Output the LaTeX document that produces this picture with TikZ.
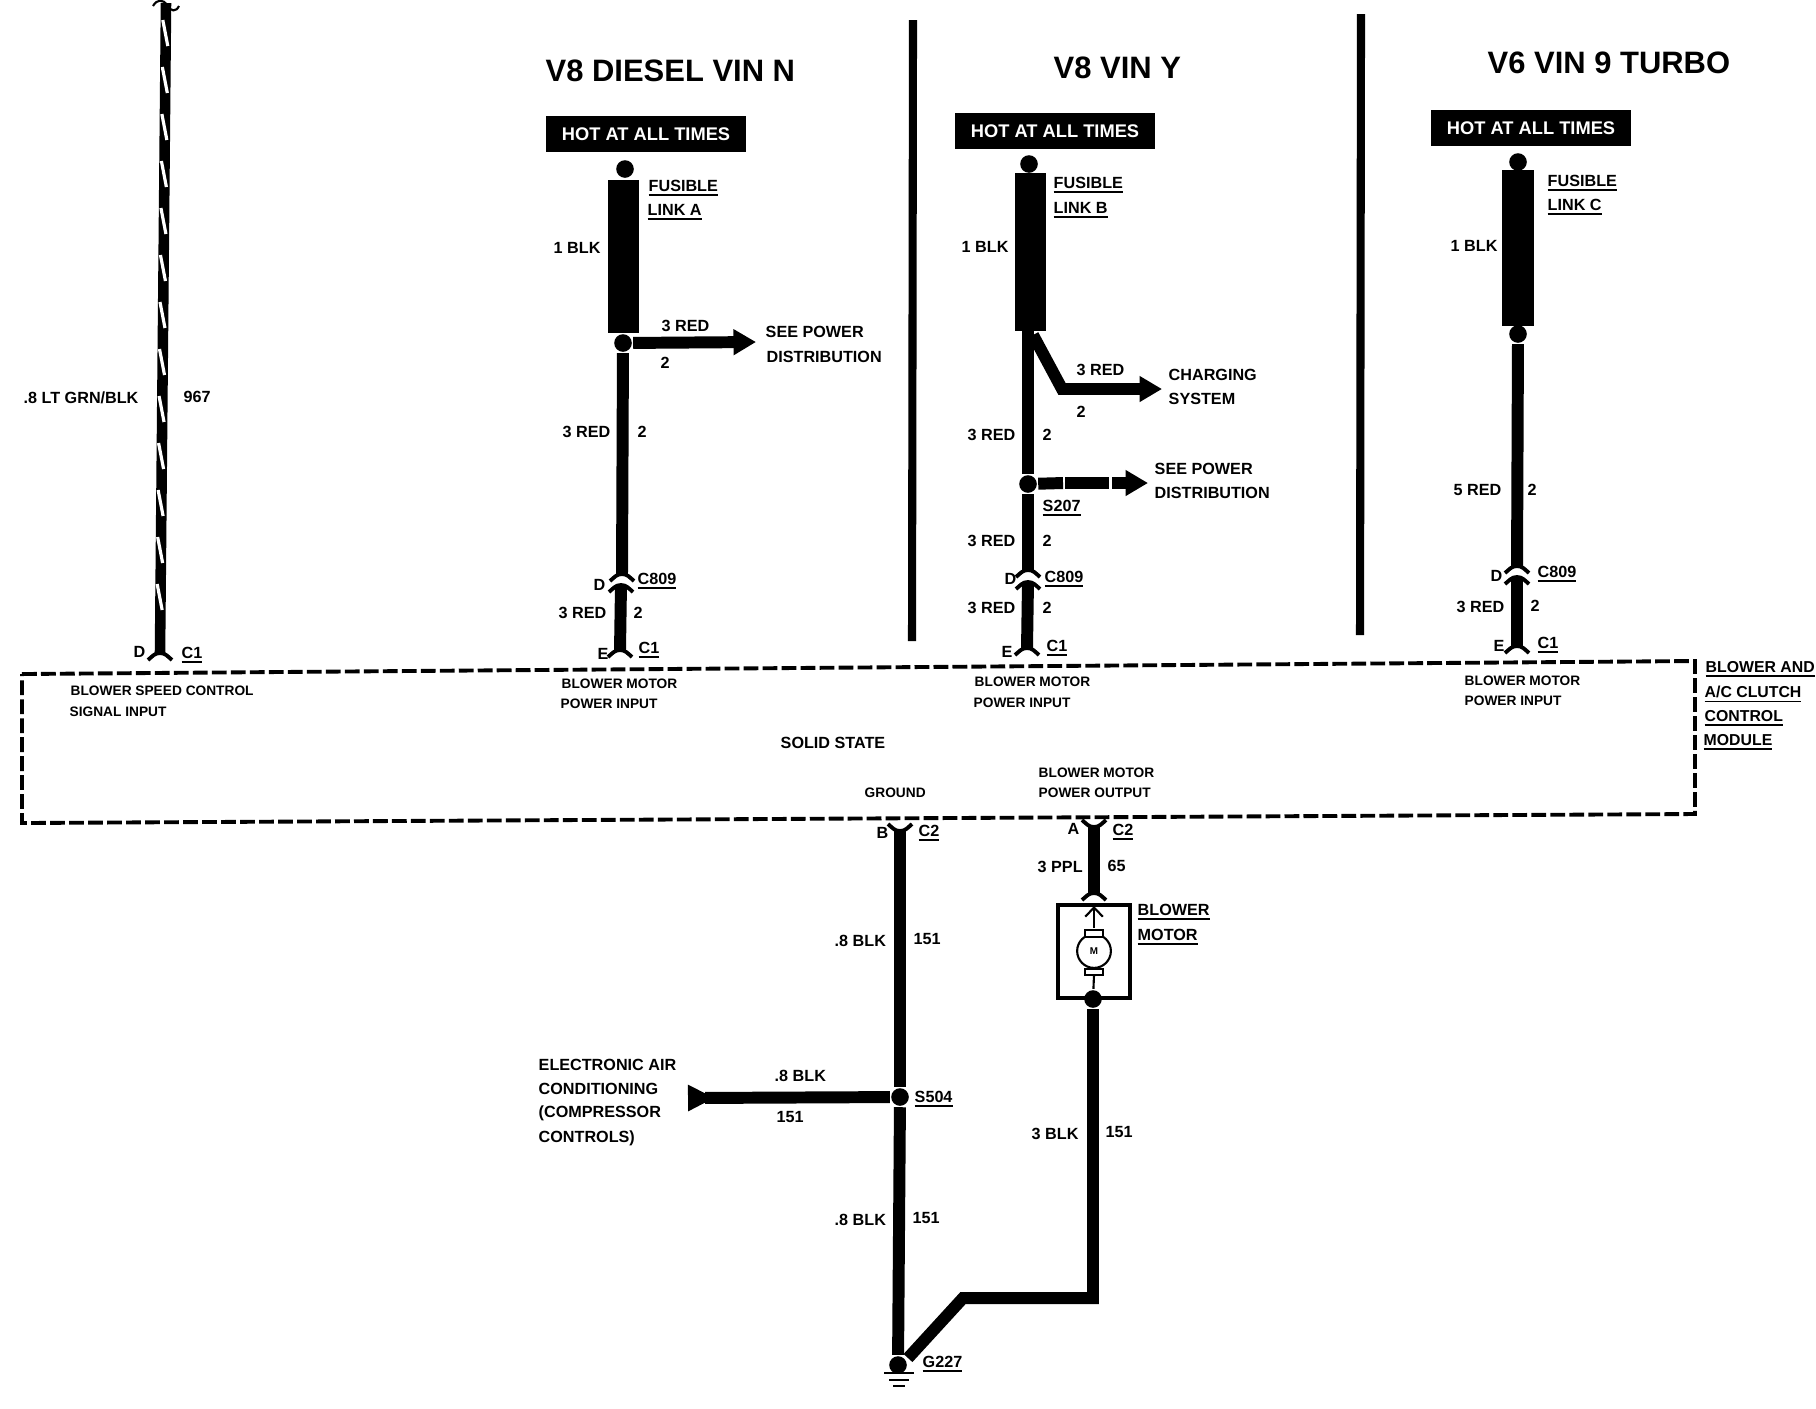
\documentclass[tikz,border=0pt]{standalone}
\usepackage{fontspec}
\setmainfont{Liberation Sans}
\usetikzlibrary{arrows.meta}
\newcommand{\ul}[1]{\vtop{\hbox{#1}\kern0.9pt\hrule height 0.55pt}}
\tikzset{
    txt/.style={anchor=base west, inner sep=0pt, font=\fontsize{4.6}{5}\selectfont\bfseries},
    modtxt/.style={txt, font=\fontsize{4.5}{5}\selectfont\bfseries},
    tiny/.style={txt, font=\fontsize{3.9}{4.5}\selectfont\bfseries},
    title/.style={txt, font=\fontsize{8.8}{10}\selectfont\bfseries},
    hotbox/.style={fill=black, text=white, inner sep=0pt, minimum width=57pt, minimum height=10.4pt,
        font=\fontsize{5.2}{6}\selectfont\bfseries},
    fuse/.style={fill=black, inner sep=0pt, minimum width=9pt, minimum height=#1},
    splice/.style={circle, fill=black, inner sep=0pt, minimum size=5pt, outer sep=0.4pt},
    wire/.style={line width=3.4pt},
    branch/.style={wire, -{Triangle[length=6.4pt,width=7pt]}},
    prong/.pic={\draw[line width=1.1pt] (-12,7) to[out=40,in=180] (0,0) to[out=0,in=140] (12,7);}
}
\begin{document}
\begin{tikzpicture}[x=0.01cm, y=-0.01cm]
    \useasboundingbox (0,0) rectangle (1816,1408);

    % Control module
    \coordinate (modNW) at (22,674);
    \coordinate (modNE) at (1695,661);
    \coordinate (modSE) at (1695,814);
    \coordinate (modSW) at (22,823);
    \draw[line width=1.1pt, dash pattern=on 4.2pt off 1.2pt] (modNW) -- (modNE) -- (modSE) -- (modSW) -- cycle;
    \node[modtxt] (modA) at (1705,672) {\ul{BLOWER AND}};
    \node[modtxt] (modB) at (1704,697) {\ul{A/C CLUTCH}};
    \node[modtxt] (modC) at (1704,721) {\ul{CONTROL}};
    \node[modtxt] (modD) at (1703,745) {\ul{MODULE}};
    \node[txt] (solid) at (780,748) {SOLID STATE};

    % Column dividers
    \coordinate (barAtop) at (913,20);
    \coordinate (barAend) at (912,641);
    \coordinate (barBtop) at (1361,14);
    \coordinate (barBend) at (1360,635);
    \draw[line width=2.3pt] (barAtop) -- (barAend);
    \draw[line width=2.3pt] (barBtop) -- (barBend);

    % Speed control wire
    \coordinate (sigTop) at (166,3);
    \coordinate (sigEnd) at (160,653);
    \draw[line width=3pt] (sigTop) -- (sigEnd);
    \foreach \y in {20,67,...,630}
        \draw[white, line width=0.9pt] ({163-0.01*\y},\y) -- ++(5,26);
    \draw[line width=0.6pt] (153,6) .. controls (157,-1) and (163,-1) .. (167,5) .. controls (171,12) and (176,12) .. (179,6);
    \pic at (sigEnd) {prong};
    \node[txt] (sigA) at (23,403) {.8 LT GRN/BLK};
    \node[txt] (sigB) at (183,402) {967};
    \node[txt] (sigD) at (133,657) {D};
    \node[txt] (sigC) at (181,658) {\ul{C1}};
    \node[tiny] (sigE) at (70,695) {BLOWER SPEED CONTROL};
    \node[tiny] (sigF) at (69,716) {SIGNAL INPUT};

    % V8 diesel
    \node[title] (titleA) at (545,81) {V8 DIESEL VIN N};
    \node[hotbox] (hotA) at (646,134) {HOT AT ALL TIMES};
    \node[splice] (topA) at (625,169) {};
    \node[fuse=43.5pt] (fuseA) at (623.5,256.5) {};
    \node[splice] (spA) at (623,343) {};
    \coordinate (plugA) at (622,574);
    \coordinate (jackA) at (621,585);
    \coordinate (endA) at (620,650);
    \coordinate (outA) at (756,342);
    \draw[wire] (spA) -- (plugA);
    \draw[wire] (jackA) -- (endA);
    \draw[branch] (spA) -- (outA);
    \pic at (plugA) {prong};
    \pic at (jackA) {prong};
    \pic at (endA) {prong};
    \node[txt] (fuA) at (648,191) {\ul{FUSIBLE}};
    \node[txt] (liA) at (647,215) {\ul{LINK A}};
    \node[txt] (blkA) at (553,253) {1 BLK};
    \node[txt] (redA) at (661,331) {3 RED};
    \node[txt] (twoA) at (660,368) {2};
    \node[txt] (seeA) at (765,337) {SEE POWER};
    \node[txt] (disA) at (766,362) {DISTRIBUTION};
    \node[txt] (redB) at (562,437) {3 RED};
    \node[txt] (twoB) at (637,437) {2};
    \node[txt] (pinA) at (593,590) {D};
    \node[txt] (conA) at (637,584) {\ul{C809}};
    \node[txt] (redC) at (558,618) {3 RED};
    \node[txt] (twoC) at (633,618) {2};
    \node[txt] (pinB) at (597,659) {E};
    \node[txt] (conB) at (638,653) {\ul{C1}};
    \node[tiny] (powA) at (561,688) {BLOWER MOTOR};
    \node[tiny] (powB) at (560,708) {POWER INPUT};

    % V8 gas
    \node[title] (titleB) at (1053,78) {V8 VIN Y};
    \node[hotbox] (hotB) at (1055,131) {HOT AT ALL TIMES};
    \node[splice] (topB) at (1029,164) {};
    \node[fuse=45pt] (fuseB) at (1030.5,252) {};
    \node[splice] (spB) at (1028,484) {};
    \coordinate (fuseBout) at (1028,330);
    \coordinate (forkB) at (1033,335);
    \coordinate (bendB) at (1062,389);
    \coordinate (outB) at (1162,389);
    \coordinate (dashA) at (1063,483);
    \coordinate (dashB) at (1065,483);
    \coordinate (dashC) at (1109,483);
    \coordinate (dashD) at (1112,483);
    \coordinate (outC) at (1148,483);
    \coordinate (plugB) at (1028,570);
    \coordinate (jackB) at (1028,582);
    \coordinate (endB) at (1027,648);
    \draw[wire] (fuseBout) -- (spB);
    \draw[branch] (forkB) -- (bendB) -- (outB);
    \draw[wire] (spB) -- (dashA);
    \draw[wire] (dashB) -- (dashC);
    \draw[branch] (dashD) -- (outC);
    \draw[wire] (spB) -- (plugB);
    \draw[wire] (jackB) -- (endB);
    \pic at (plugB) {prong};
    \pic at (jackB) {prong};
    \pic at (endB) {prong};
    \node[txt] (fuB) at (1053,188) {\ul{FUSIBLE}};
    \node[txt] (liB) at (1053,213) {\ul{LINK B}};
    \node[txt] (blkB) at (961,252) {1 BLK};
    \node[txt] (redD) at (1076,375) {3 RED};
    \node[txt] (twoD) at (1076,417) {2};
    \node[txt] (chgA) at (1168,380) {CHARGING};
    \node[txt] (chgB) at (1168,404) {SYSTEM};
    \node[txt] (redE) at (967,440) {3 RED};
    \node[txt] (twoE) at (1042,440) {2};
    \node[txt] (seeB) at (1154,474) {SEE POWER};
    \node[txt] (disB) at (1154,498) {DISTRIBUTION};
    \node[txt] (spName) at (1042,511) {\ul{S207}};
    \node[txt] (redF) at (967,546) {3 RED};
    \node[txt] (twoF) at (1042,546) {2};
    \node[txt] (pinC) at (1004,584) {D};
    \node[txt] (conC) at (1044,582) {\ul{C809}};
    \node[txt] (redG) at (967,613) {3 RED};
    \node[txt] (twoG) at (1042,613) {2};
    \node[txt] (pinD) at (1001,657) {E};
    \node[txt] (conD) at (1046,651) {\ul{C1}};
    \node[tiny] (powC) at (974,686) {BLOWER MOTOR};
    \node[tiny] (powD) at (973,707) {POWER INPUT};

    % V6 turbo
    \node[title] (titleC) at (1487,73) {V6 VIN 9 TURBO};
    \node[hotbox] (hotC) at (1531,128) {HOT AT ALL TIMES};
    \node[splice] (topC) at (1518,162) {};
    \node[fuse=44.4pt] (fuseC) at (1518,248) {};
    \node[splice] (spC) at (1518,334) {};
    \coordinate (plugC) at (1517,566);
    \coordinate (jackC) at (1517,577);
    \coordinate (endC) at (1517,646);
    \draw[wire] (spC) -- (plugC);
    \draw[wire] (jackC) -- (endC);
    \pic at (plugC) {prong};
    \pic at (jackC) {prong};
    \pic at (endC) {prong};
    \node[txt] (fuC) at (1547,186) {\ul{FUSIBLE}};
    \node[txt] (liC) at (1547,210) {\ul{LINK C}};
    \node[txt] (blkC) at (1450,251) {1 BLK};
    \node[txt] (redH) at (1453,495) {5 RED};
    \node[txt] (twoH) at (1527,495) {2};
    \node[txt] (pinE) at (1490,581) {D};
    \node[txt] (conE) at (1537,577) {\ul{C809}};
    \node[txt] (redI) at (1456,612) {3 RED};
    \node[txt] (twoI) at (1530,611) {2};
    \node[txt] (pinF) at (1493,651) {E};
    \node[txt] (conF) at (1537,648) {\ul{C1}};
    \node[tiny] (powE) at (1464,685) {BLOWER MOTOR};
    \node[tiny] (powF) at (1464,705) {POWER INPUT};

    % Ground side
    \node[tiny] (gnd) at (864,797) {GROUND};
    \node[tiny] (outD) at (1038,777) {BLOWER MOTOR};
    \node[tiny] (outE) at (1038,797) {POWER OUTPUT};
    \node[splice] (spD) at (900,1097) {};
    \node[splice] (spE) at (1093,999) {};
    \node[splice] (spG) at (898,1365) {};
    \coordinate (gndTop) at (900,831);
    \coordinate (feedTop) at (1094,827);
    \coordinate (feedEnd) at (1094,893);
    \coordinate (eacEnd) at (688,1098);
    \coordinate (retTop) at (1093,1009);
    \coordinate (bendC) at (1093,1298);
    \coordinate (bendD) at (963,1298);
    \coordinate (bendE) at (908,1358);
    \draw[wire] (gndTop) -- (spD);
    \draw[wire] (spD) -- (spG);
    \draw[wire, -{Triangle[reversed,length=7.6pt,width=7pt]}] (spD) -- (eacEnd);
    \draw[wire] (feedTop) -- (feedEnd);
    \draw[wire] (retTop) -- (bendC) -- (bendD) -- (bendE);
    \pic[yscale=-1] at (gndTop) {prong};
    \pic[yscale=-1] at (feedTop) {prong};
    \pic at (feedEnd) {prong};

    % Motor
    \coordinate (boxNW) at (1058,905);
    \coordinate (boxSE) at (1130,998);
    \coordinate (armTop) at (1094,906);
    \coordinate (armEnd) at (1094,928);
    \coordinate (armLow) at (1094,975);
    \node[circle, draw, line width=0.6pt, inner sep=0pt, minimum size=9.6pt, font=\fontsize{2.8}{3}\selectfont\bfseries] (motor) at (1094,951) {M};
    \draw[line width=1.1pt] (boxNW) rectangle (boxSE);
    \draw[line width=0.6pt, -{Straight Barb[length=2.6pt,width=5pt]}] (armEnd) -- (armTop);
    \draw[line width=0.6pt, fill=white] (1085,930) rectangle (1103,937);
    \draw[line width=0.6pt, fill=white] (1085,969) rectangle (1103,975);
    \draw[line width=0.6pt] (armLow) -- (spE);

    \node[txt] (pinG) at (876,838) {B};
    \node[txt] (conG) at (918,836) {\ul{C2}};
    \node[txt] (pinH) at (1067,834) {A};
    \node[txt] (conH) at (1112,835) {\ul{C2}};
    \node[txt] (ppl) at (1037,872) {3 PPL};
    \node[txt] (sixty) at (1107,871) {65};
    \node[txt] (motA) at (1137,915) {\ul{BLOWER}};
    \node[txt] (motB) at (1137,940) {\ul{MOTOR}};
    \node[txt] (blkD) at (834,946) {.8 BLK};
    \node[txt] (numA) at (913,944) {151};
    \node[txt] (eacA) at (538,1070) {ELECTRONIC AIR};
    \node[txt] (eacB) at (538,1094) {CONDITIONING};
    \node[txt] (eacC) at (538,1117) {(COMPRESSOR};
    \node[txt] (eacD) at (538,1142) {CONTROLS)};
    \node[txt] (blkE) at (774,1081) {.8 BLK};
    \node[txt] (numB) at (776,1122) {151};
    \node[txt] (spF) at (914,1102) {\ul{S504}};
    \node[txt] (blkF) at (1031,1139) {3 BLK};
    \node[txt] (numC) at (1105,1137) {151};
    \node[txt] (blkG) at (834,1225) {.8 BLK};
    \node[txt] (numD) at (912,1223) {151};
    \node[txt] (gName) at (922,1367) {\ul{G227}};

    % Ground symbol
    \coordinate (earth) at (899,1373);
    \draw[line width=0.8pt] (earth) ++(-15,0) -- ++(30,0);
    \draw[line width=0.8pt] (earth) ++(-10,7) -- ++(20,0);
    \draw[line width=0.8pt] (earth) ++(-6,13) -- ++(12,0);
\end{tikzpicture}
\end{document}
